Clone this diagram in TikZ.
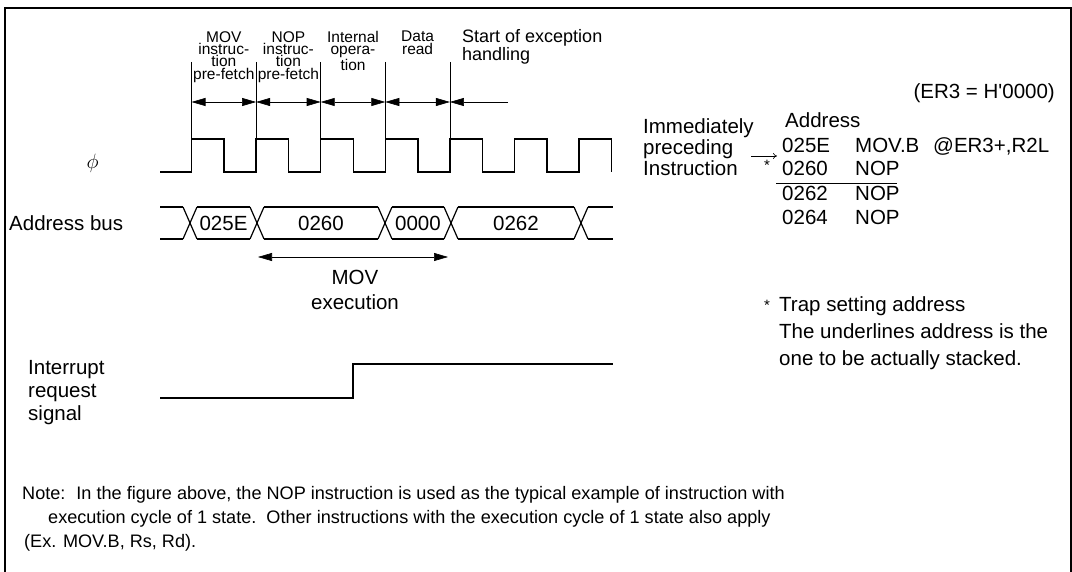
\documentclass[tikz,border=0pt]{standalone}
\usepackage{fontspec}
\setmainfont{Liberation Sans}
\usetikzlibrary{arrows.meta}

\begin{document}
\begin{tikzpicture}[x=1pt,y=-1pt,font=\fontsize{20.5}{22}\selectfont,
  txt/.style={inner sep=0pt},
  small/.style={inner sep=0pt,align=center,font=\fontsize{15.5}{12.4}\selectfont},
  sig/.style={line width=1.5pt},
  dim/.style={line width=0.6pt,{Triangle[length=14pt,width=8pt]}-{Triangle[length=14pt,width=8pt]}}]
  \useasboundingbox (0,0) rectangle (1072,572);
  \clip (0,0) rectangle (1072,572);
  % frame
  \draw[line width=2pt] (5,8) rectangle (1071,600);
  % state labels above the clock
  \foreach \x/\n/\t in {223.8/mov/{MOV\\instruc-\\tion\\pre-fetch},288.4/nop/{NOP\\instruc-\\tion\\pre-fetch},
     353/int/{Internal\\opera-\\tion},417.6/dat/{Data\\read}} {\node[small,anchor=north] (lbl\n) at (\x,31) {\t};}
  \node[small,align=left,anchor=north west,font=\fontsize{18}{14}\selectfont] (lblexc) at (462,29.5) {Start of exception\\handling};
  % state borders and arrows
  \foreach \k in {0,...,4} {\draw[line width=0.6pt] ({191.5+64.6*\k},62) -- ({191.5+64.6*\k},139);
     \coordinate (p\k) at ({191.5+64.6*\k},102);}
  \foreach \a/\b in {0/1,1/2,2/3,3/4} {\draw[dim] (p\a) -- (p\b);}
  \coordinate (pend) at (508,102);
  \draw[line width=0.6pt,-{Triangle[length=14pt,width=8pt]}] (pend) -- (p4);
  % clock
  \node[txt] (phi) at (92.7,163) {$\phi$};
  \draw[sig] (160,172) foreach \k in {0,...,6} { -- ({191.5+64.6*\k},172) -- ({191.5+64.6*\k},139)
     -- ({224.1+64.6*\k},139) -- ({224.1+64.6*\k},172)};
  % address bus
  \node[txt,anchor=west] (abus) at (9,223) {Address bus};
  \foreach \c in {190,257,385,451,581} {\draw[line width=1.2pt] (\c-7,207) -- (\c+7,239);
     \draw[line width=1.2pt] (\c-7,239) -- (\c+7,207);}
  \foreach \a/\b in {160/183,197/250,264/378,392/444,458/574,588/613} {\draw[line width=1.2pt] (\a,207) -- (\b,207);
     \draw[line width=1.2pt] (\a,239) -- (\b,239);}
  \foreach \x/\n in {223.5/025E,321/0260,418/0000,516/0262} {\node[txt] (a\n) at (\x,223) {\n};}
  % MOV execution
  \coordinate (mx0) at (258,257);
  \coordinate (mx1) at (448,257);
  \draw[dim] (mx0) -- (mx1);
  \node[txt,align=center,anchor=north,font=\fontsize{20.5}{25}\selectfont] (movex) at (355,270) {MOV\\execution};
  % interrupt request
  \node[txt,align=left,anchor=north west,font=\fontsize{20.5}{23}\selectfont] (irq) at (28,360) {Interrupt\\request\\signal};
  \draw[sig] (160,398) -- (353,398) -- (353,364) -- (613,364);
  % program listing
  \node[txt,anchor=base east] (er3) at (1055,99) {(ER3 = H\textquotesingle0000)};
  \node[txt,align=left,anchor=north west,font=\fontsize{20.5}{21}\selectfont] (imm) at (643,118) {Immediately\\preceding\\Instruction};
  \node[txt,anchor=base west] (addr) at (785,128) {Address};
  \coordinate (ar0) at (751,156);
  \coordinate (ar1) at (777,156);
  \draw[line width=0.6pt,-{To[length=4pt,width=6pt]}] (ar0) -- (ar1);
  \foreach \y/\a/\o in {153/025E/MOV.B,176/0260/NOP,201/0262/NOP,225/0264/NOP} {
     \node[txt,anchor=base west] (ad\a) at (782,\y) {\a};
     \node[txt,anchor=base west] (op\a) at (855,\y) {\o};}
  \node[txt,anchor=base west] (opnd) at (933,153) {@ER3+,R2L};
  \node[txt,font=\fontsize{15}{15}\selectfont] (star) at (767,165) {*};
  \coordinate (u0) at (776,183.5);
  \coordinate (u1) at (897,183.5);
  \draw[line width=0.8pt] (u0) -- (u1);
  % footnote
  \node[txt,font=\fontsize{15}{15}\selectfont] (star2) at (767,305) {*};
  \node[txt,anchor=base west] (trap) at (779,312) {Trap setting address};
  \node[txt,anchor=base west] (trap2) at (779,339) {The underlines address is the};
  \node[txt,anchor=base west] (trap3) at (779,366) {one to be actually stacked.};
  % note
  \begin{scope}[font=\fontsize{18.1}{20}\selectfont]
  \node[txt,anchor=base west] (note1) at (22,499) {Note:\hspace{11pt}In the figure above, the NOP instruction is used as the typical example of instruction with};
  \node[txt,anchor=base west] (note2) at (48,523) {execution cycle of 1 state.\ \ Other instructions with the execution cycle of 1 state also apply};
  \node[txt,anchor=base west] (note3) at (24,547) {(Ex. MOV.B, Rs, Rd).};
  \end{scope}
\end{tikzpicture}
\end{document}
